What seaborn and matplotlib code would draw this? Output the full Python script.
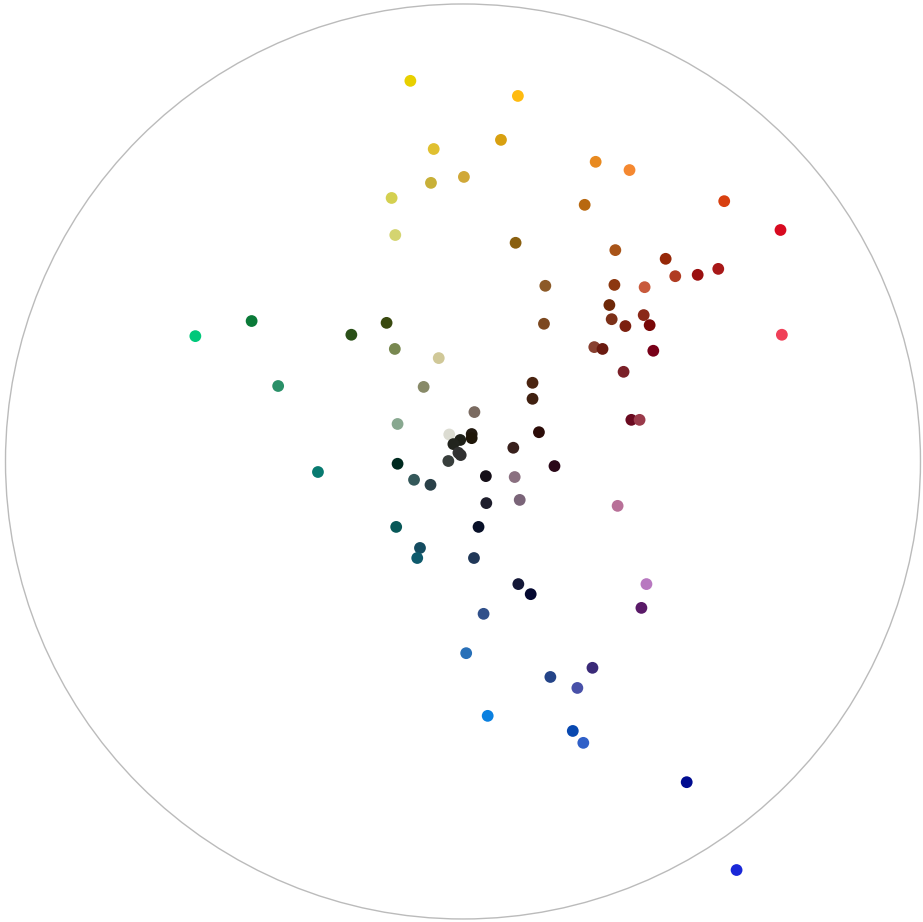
import matplotlib
matplotlib.use("Agg")
import matplotlib.pyplot as plt
import seaborn as sns
import pandas as pd

# a*/b*-style coordinates (circle radius = 100) and swatch colours
a_vals = [-11.5, 12.0, 8.3, -6.4, 29.0, 36.4, 0.2, -7.0, -15.6, 26.6,
          57.1, 69.4, -14.8, 11.5, 33.3, 44.3, 55.8, 51.3, 46.4, 33.1,
          39.7, 18.0, 32.0, 32.5, 39.5, 35.5, 40.8, 17.7, 28.7, 30.5,
          41.6, 69.7, 35.1, -58.5, -46.2, -24.4, -16.7, -14.9, -5.3, -40.4,
          -8.6, 15.2, 15.2, 2.5, -14.3, 36.8, 38.6, 16.6, -3.0, 1.9,
          1.9, -0.6, -2.1, 11.0, -1.0, -0.5, -3.2, -14.3, 20.0, -31.7,
          5.0, 11.3, -10.7, -7.1, 5.1, 12.4, 33.8, -14.6, 3.4, -9.4,
          -10.0, 2.4, 12.1, 14.8, 40.1, 39.0, 4.5, 0.7, 28.3, 19.1,
          25.0, 5.4, 24.0, 26.3, 48.9, 59.8]
b_vals = [83.2, 79.9, 70.3, 68.3, 65.5, 63.7, 62.2, 60.9, 57.6, 56.1,
          56.9, 50.6, 49.5, 47.8, 46.2, 44.3, 42.1, 40.8, 40.5, 38.6,
          38.1, 38.4, 34.2, 31.1, 32.0, 29.6, 29.8, 30.1, 25.0, 24.6,
          24.2, 27.7, 19.6, 27.4, 30.7, 27.7, 30.3, 24.6, 22.6, 16.5,
          16.3, 17.2, 13.7, 10.8, 8.2, 9.1, 9.1, 6.4, 5.9, 6.0,
          5.1, 4.7, 3.8, 3.0, 1.9, 1.4, 0.1, -0.5, -1.0, -2.3,
          -3.2, -3.4, -4.0, -5.1, -9.1, -8.4, -9.7, -14.3, -14.3, -18.9,
          -21.1, -21.1, -26.8, -29.0, -26.8, -32.0, -33.3, -41.9, -45.1, -47.1,
          -49.5, -55.6, -58.9, -61.5, -70.1, -89.3]
swatches = ["#e8d000", "#ffbb10", "#d8a010", "#e0c030", "#e88a20", "#f58830", "#d0a838", "#c8b038", "#d4d050", "#b86810",
            "#d84010", "#d80a20", "#d4d470", "#8a6010", "#a85418", "#962808", "#a81818", "#9a1010", "#b03c22", "#8c3810",
            "#c85a3c", "#8c5a28", "#6e2808", "#7c3018", "#8a2818", "#7c2010", "#780808", "#7c4820", "#884030", "#6a1a10",
            "#780018", "#f04058", "#7a2028", "#00c87a", "#0a7a38", "#2a5018", "#3a4a10", "#788850", "#d0c898", "#2a9068",
            "#888a68", "#4a2410", "#402010", "#7a6a60", "#88a890", "#6a0a20", "#9a3a4a", "#2c0c08", "#dcdcd2", "#221a10",
            "#1e1608", "#1e2018", "#22241e", "#38201c", "#333333", "#303030", "#383e3c", "#002a20", "#2a0818", "#087a70",
            "#150f18", "#8a7080", "#34585a", "#2a4048", "#1e1e2c", "#7a6478", "#b87098", "#085858", "#081028", "#144c60",
            "#0e5a6c", "#203858", "#141838", "#040830", "#b878c0", "#5a1a68", "#30508a", "#2870b8", "#3a2a78", "#244488",
            "#4850a8", "#0a80e0", "#0848b0", "#3060c8", "#000c90", "#1a28d8"]

df = pd.DataFrame({"a": a_vals, "b": b_vals, "color": swatches})

sns.set_style("white")
fig = plt.figure(figsize=(9.23, 9.22), dpi=100)
ax = fig.add_axes([0, 0, 1, 1])

ax.add_patch(plt.Circle((0, 0), 100, fill=False, edgecolor="#bbbbbb", linewidth=1))

sns.scatterplot(data=df, x="a", y="b", hue="color",
                palette={c: c for c in swatches}, s=72, linewidth=0,
                legend=False, ax=ax)

ax.set_xlim(-101.2, 100.55)
ax.set_ylim(-100.66, 100.87)
ax.set_aspect("equal")
ax.axis("off")

fig.savefig("out.png", dpi=100)
